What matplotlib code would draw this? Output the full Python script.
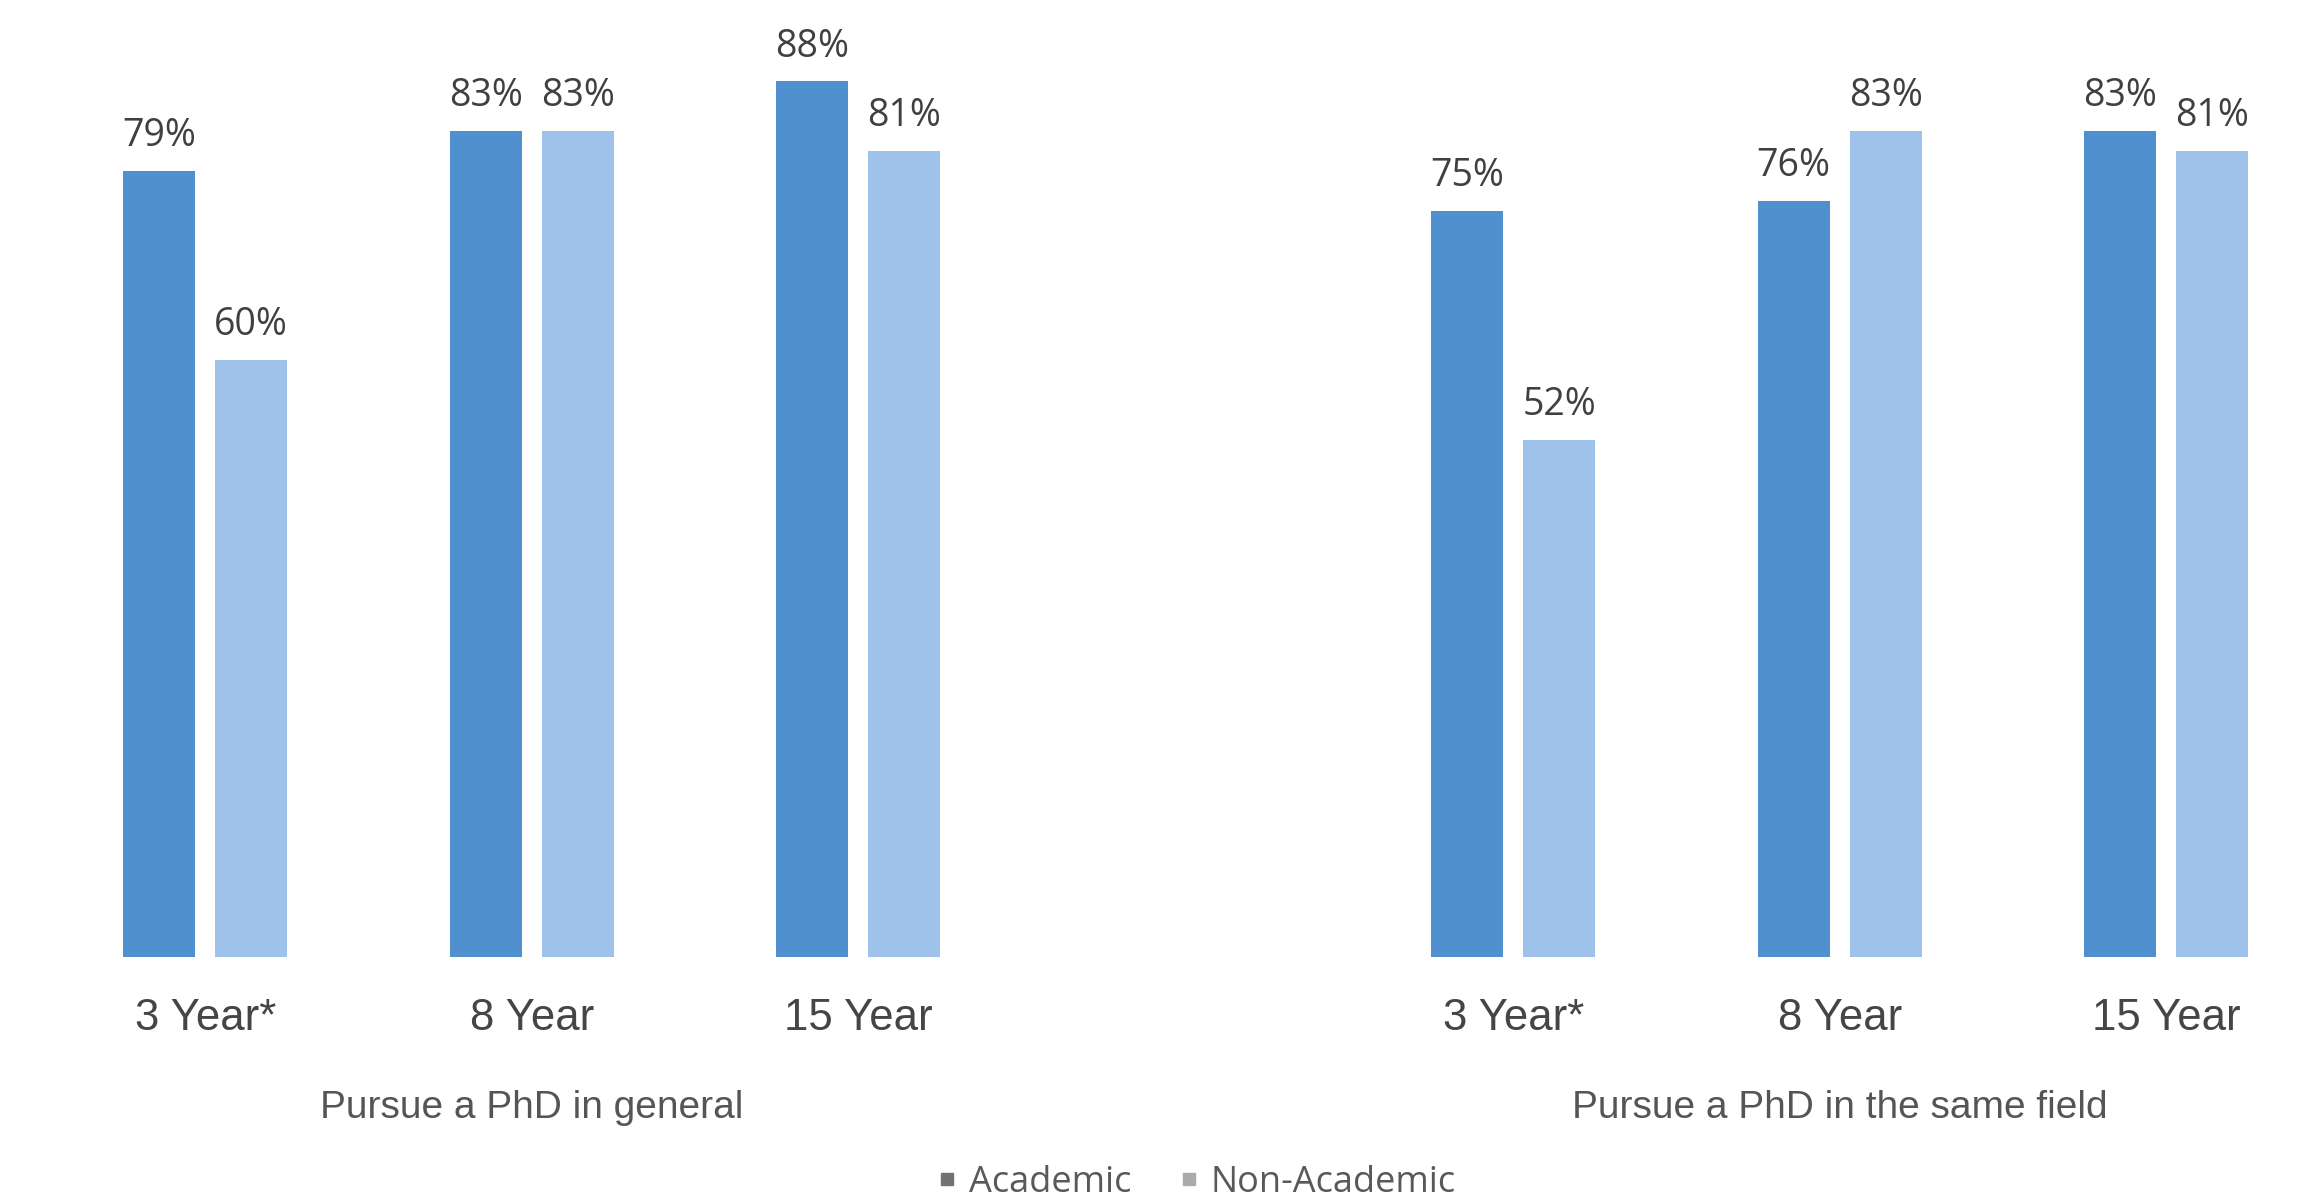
import matplotlib
matplotlib.use('Agg')
import matplotlib.pyplot as plt
from matplotlib.lines import Line2D
import numpy as np

# survey results, share of respondents (%)
periods = ['3 Year*', '8 Year', '15 Year']
panel_titles = ['Pursue a PhD in general', 'Pursue a PhD in the same field']
academic = [[79, 83, 88], [75, 76, 83]]
non_academic = [[60, 83, 81], [52, 83, 81]]
series_names = ['Academic', 'Non-Academic']

bar_colors = ['#5190cf', '#9ec2e9']
legend_colors = ['#727272', '#ababab']
label_color = '#404040'

W, H = 2301, 1197
fig = plt.figure(figsize=(W / 100, H / 100), dpi=100)

# axes placement in pixels: left edge, width in category units, x-limits
base_px = 957
px_per_pct = 9.95
ymax = 95
unit_px = 326.5
panels = [(42, (-0.5, 2.5)), (1350, (-0.5, 2.4))]

offset = 0.141
width = 0.22

for p, (left_px, xlim) in enumerate(panels):
    w_px = (xlim[1] - xlim[0]) * unit_px
    ax = fig.add_axes([left_px / W, (H - base_px) / H, w_px / W, ymax * px_per_pct / H])
    x = np.arange(len(periods))
    for vals, dx, col in [(academic[p], -offset, bar_colors[0]), (non_academic[p], offset, bar_colors[1])]:
        bars = ax.bar(x + dx, vals, width=width, color=col, linewidth=0)
        for b, v in zip(bars, vals):
            ax.annotate(f'{v}%', (b.get_x() + b.get_width() / 2, v), xytext=(0, 25),
                        textcoords='offset points', ha='center', va='center',
                        fontsize=27, family='Open Sans', color=label_color)
    ax.set_xlim(*xlim)
    ax.set_ylim(0, ymax)
    for s in ax.spines.values():
        s.set_visible(False)
    ax.set_yticks([])
    ax.set_xticks([])
    # category labels under each pair of bars
    for i, name in enumerate(periods):
        ax.annotate(name, (i, 0), xycoords=('data', 'axes fraction'), xytext=(0, -44),
                    textcoords='offset points', ha='center', va='center',
                    fontsize=31.5, family='Liberation Sans', color='#454545')
    ax.annotate(panel_titles[p], (1, 0), xycoords=('data', 'axes fraction'), xytext=(0, -109),
                textcoords='offset points', ha='center', va='center',
                fontsize=28, family='Liberation Sans', color='#555555')

handles = [Line2D([], [], marker='s', linestyle='none', markersize=8, color=c) for c in legend_colors]
fig.legend(handles, series_names, loc='center', bbox_to_anchor=(1196 / W, 1 - 1183 / H),
           ncol=2, frameon=False, handlelength=0.6, handletextpad=0.3, columnspacing=1.3,
           prop={'family': 'Open Sans', 'size': 26}, labelcolor='#595959')

fig.savefig('out.png', dpi=100, facecolor='white')
